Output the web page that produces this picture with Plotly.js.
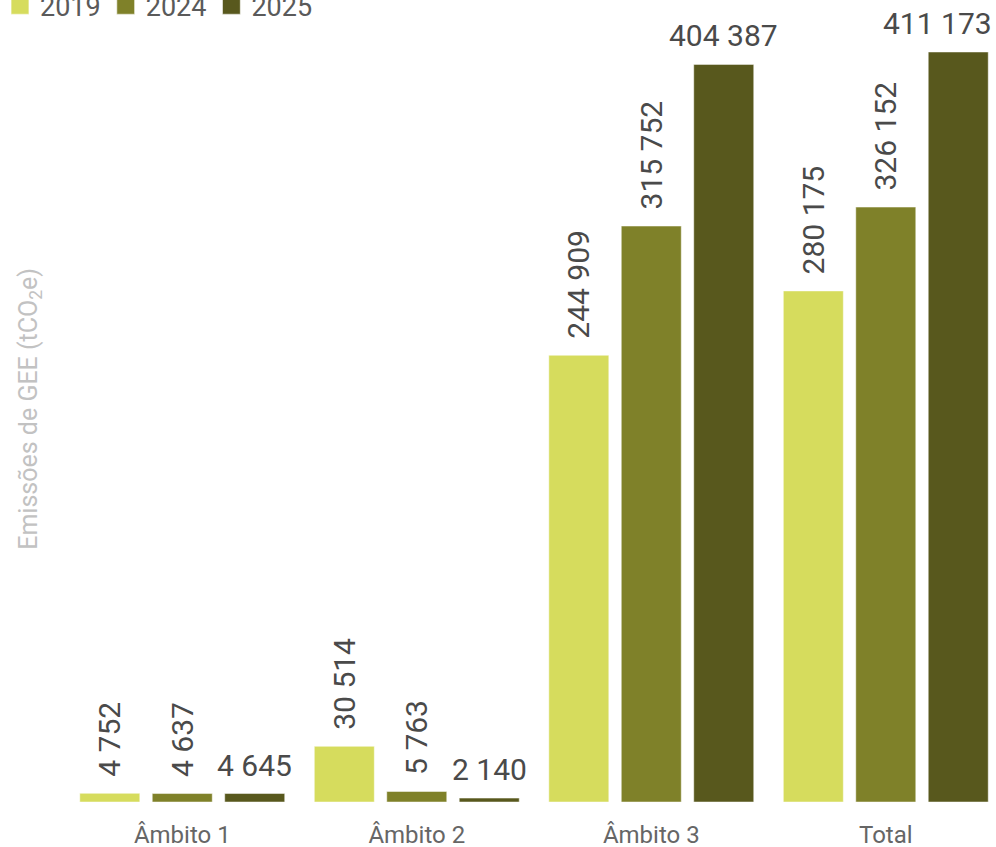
<!DOCTYPE html>
<html>
<head>
<meta charset="utf-8">
<script src="https://cdn.plot.ly/plotly-3.0.1.min.js"></script>
<style>
html,body{margin:0;padding:0;background:#fff;}
#chart{width:996px;height:847px;}
#chart g.legendpoints path { transform: translate(20px, 0px) scale(1.5); }
</style>
</head>
<body>
<div id="chart"></div>
<script>
const categories = ["Âmbito 1", "Âmbito 2", "Âmbito 3", "Total"];
const seriesNames = ["2019", "2024", "2025"];
const values2019 = [4752, 30514, 244909, 280175];
const values2024 = [4637, 5763, 315752, 326152];
const values2025 = [4645, 2140, 404387, 411173];
const colors = ["#d6dc5d", "#7f8129", "#58581d"];
const yTitle = "Emissões de GEE (tCO<sub>2</sub>e)";

const FONT = "Roboto, 'Noto Sans', sans-serif";
const LABEL_FONT = { family: FONT, size: 30, color: "#4a4a4a" };
const W = 996, H = 847;
const M = { l: 65, r: 0, t: 40, b: 45 };
const XRANGE = [-0.5, 3.47];
const BARGAP = 0.073, BARGROUPGAP = 0.172;

function fmt(v) { return String(v).replace(/\B(?=(\d{3})+(?!\d))/g, " "); }

// 2019 and 2024: vertical labels drawn by the bars themselves
const rotatedSeries = [values2019, values2024];
const traces = rotatedSeries.map((vals, i) => ({
  type: "bar",
  name: seriesNames[i],
  x: categories,
  y: vals,
  marker: { color: colors[i], line: { color: "rgba(255,255,255,0.6)", width: 0.8 } },
  text: vals.map(v => "\u00a0\u2009" + fmt(v)),
  texttemplate: "%{text}",
  textposition: "outside",
  textangle: -90,
  constraintext: "none",
  cliponaxis: false,
  textfont: LABEL_FONT,
  hoverinfo: "x+y+name"
}));
// 2025: horizontal labels as annotations
traces.push({
  type: "bar",
  name: seriesNames[2],
  x: categories,
  y: values2025,
  marker: { color: colors[2], line: { color: "rgba(255,255,255,0.6)", width: 0.8 } },
  textposition: "none",
  cliponaxis: false,
  hoverinfo: "x+y+name"
});

const plotW = W - M.l - M.r;
const catPx = plotW / (XRANGE[1] - XRANGE[0]);
const slotPx = catPx * (1 - BARGAP) / 3;
const barPx = slotPx * (1 - BARGROUPGAP);

const annotations = values2025.map((v, j) => {
  const last = j === categories.length - 1;
  return {
    xref: "x", yref: "y",
    x: categories[j], y: v,
    text: fmt(v),
    showarrow: false,
    xanchor: last ? "right" : "center",
    yanchor: "bottom",
    xshift: slotPx + (last ? barPx / 2 + 6 : 0),
    yshift: 9,
    font: LABEL_FONT
  };
});
// y-axis title
annotations.push({
  xref: "paper", yref: "paper",
  x: -35 / plotW, y: 0.516,
  xanchor: "center", yanchor: "middle",
  textangle: -90,
  text: yTitle,
  showarrow: false,
  font: { family: FONT, size: 25, color: "#c2c2c2" }
});

const layout = {
  width: W,
  height: H,
  separators: ", ",
  paper_bgcolor: "#ffffff",
  plot_bgcolor: "#ffffff",
  font: { family: FONT, color: "#555" },
  margin: { l: M.l, r: M.r, t: M.t, b: M.b, pad: 0, autoexpand: false },
  barmode: "group",
  bargap: BARGAP,
  bargroupgap: BARGROUPGAP,
  showlegend: true,
  legend: {
    orientation: "h",
    xref: "paper", yref: "paper",
    x: -65 / plotW, y: 1.077, xanchor: "left", yanchor: "top",
    font: { family: FONT, size: 27, color: "#5a5a5a" },
    traceorder: "normal",
    bgcolor: "rgba(0,0,0,0)"
  },
  annotations: annotations,
  xaxis: {
    type: "category",
    range: XRANGE,
    showgrid: false, zeroline: false, showline: false,
    ticks: "",
    ticklabelstandoff: 16,
    tickfont: { family: FONT, size: 24, color: "#666" },
    fixedrange: true
  },
  yaxis: {
    range: [0, 417752],
    showgrid: false, zeroline: false, showline: false,
    showticklabels: false, ticks: "",
    fixedrange: true
  }
};

Plotly.newPlot("chart", traces, layout, { displayModeBar: false, staticPlot: true });
</script>
</body>
</html>
